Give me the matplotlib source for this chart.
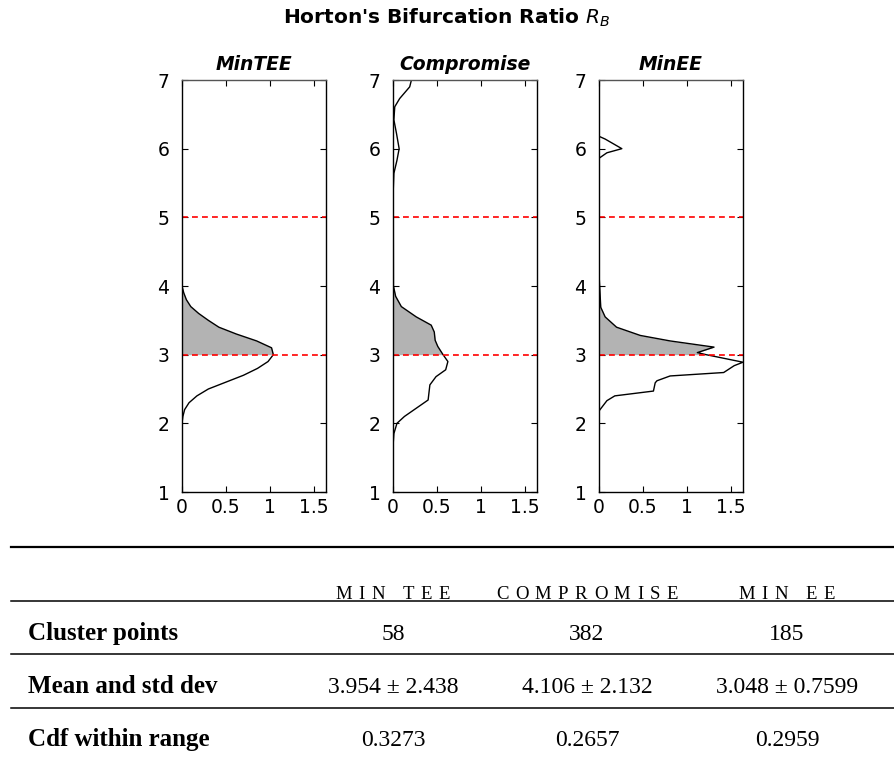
import numpy as np
import matplotlib.pyplot as plt
from matplotlib.lines import Line2D

# density of R_B for each solution set (x = density, y = ratio)
tee_y = [1.0, 2.0, 2.1, 2.2, 2.3, 2.4, 2.5, 2.6, 2.7, 2.8, 2.9, 3.0, 3.1,
         3.2, 3.3, 3.4, 3.5, 3.6, 3.7, 3.8, 3.9, 4.0, 7.0]
tee_d = [0.0, 0.0, 0.01, 0.03, 0.08, 0.17, 0.30, 0.50, 0.70, 0.86, 0.98, 1.04, 1.02,
         0.85, 0.62, 0.42, 0.30, 0.19, 0.10, 0.05, 0.02, 0.0, 0.0]

comp_y = [1.66, 1.85, 2.0, 2.1, 2.22, 2.34, 2.56, 2.68, 2.78, 2.9, 3.0, 3.12,
          3.21, 3.33, 3.43, 3.55, 3.7, 3.85, 4.0, 5.4, 5.64, 5.83, 6.0, 6.22,
          6.42, 6.61, 6.73, 6.9, 7.0]
comp_d = [0.0, 0.01, 0.045, 0.13, 0.265, 0.40, 0.42, 0.49, 0.60, 0.625, 0.57, 0.51,
          0.48, 0.47, 0.435, 0.265, 0.095, 0.03, 0.005, 0.003, 0.01, 0.045, 0.07, 0.04,
          0.01, 0.02, 0.076, 0.19, 0.21]

ee_y = [1.0, 2.18, 2.23, 2.33, 2.40, 2.47, 2.59, 2.62, 2.69, 2.74, 2.84, 2.89,
        3.0, 3.03, 3.11, 3.2, 3.28, 3.4, 3.55, 3.69, 4.18, 5.86, 5.94, 6.0, 6.14,
        6.18, 7.0]
ee_d = [0.0, 0.0, 0.03, 0.09, 0.18, 0.62, 0.64, 0.66, 0.81, 1.42, 1.54, 1.64,
        1.22, 1.12, 1.31, 0.81, 0.47, 0.2, 0.07, 0.02, 0.0, 0.0, 0.09, 0.26, 0.07,
        0.0, 0.0]

titles = ["MinTEE", "Compromise", "MinEE"]
series = [(tee_y, tee_d), (comp_y, comp_d), (ee_y, ee_d)]
lo, hi = 3.0, 5.0

col_heads = ["MIN TEE", "COMPROMISE", "MIN EE"]
row_heads = ["Cluster points", "Mean and std dev", "Cdf within range"]
cells = [["58", "382", "185"],
         ["3.954 ± 2.438", "4.106 ± 2.132", "3.048 ± 0.7599"],
         ["0.3273", "0.2657", "0.2959"]]

W, H = 894, 758
fig = plt.figure(figsize=(W / 100, H / 100), dpi=100)

xmax = max(max(d) for _, d in series)
lefts = [182, 393, 599]
for left, name, (y, d) in zip(lefts, titles, series):
    ax = fig.add_axes([left / W, 1 - 492 / H, 144 / W, 412 / H])
    y = np.array(y)
    d = np.array(d)
    m = (y >= lo) & (y <= hi)
    ax.fill_betweenx(y[m], 0, d[m], color="#b3b3b3", lw=0)
    ax.plot(d, y, color="black", lw=1)
    for v in (lo, hi):
        ax.axhline(v, color="#ff0000", lw=1.2, ls=(0, (3.5, 2.5)))
    ax.set_xlim(0, xmax)
    ax.set_ylim(1, 7)
    ax.set_xticks([0, 0.5, 1, 1.5])
    ax.set_xticklabels(["0", "0.5", "1", "1.5"])
    ax.set_yticks(range(1, 8))
    ax.tick_params(direction="in", top=True, right=True, length=4,
                   labelsize=13.5)
    ax.tick_params(axis="x", pad=4)
    ax.tick_params(axis="y", pad=9)
    for s in ax.spines.values():
        s.set_linewidth(1)
    ax.spines["top"].set_color("#555555")
    ax.set_title(name, fontsize=13.5, fontweight="bold", style="italic", pad=7)

fig.text(0.5, 1 - 18 / H, r"Horton's Bifurcation Ratio $R_B$", ha="center",
         va="center", fontsize=14.5, fontweight="bold")

# summary table
serif = "Liberation Serif"
for yy, lw in [(547, 1.6), (601, 1.1), (654, 1.1), (708, 1.1)]:
    fig.add_artist(Line2D([11 / W, 1], [1 - yy / H] * 2, color="black", lw=lw))

renderer = fig.canvas.get_renderer()


def spaced(xc, base, s, size, track):
    # small-caps style header: letters laid out one by one with extra tracking
    parts = []
    for ch in s:
        t = fig.text(0, 1 - base / H, ch, fontsize=size, family=serif,
                     va="baseline", ha="left")
        w = t.get_window_extent(renderer).width
        if ch == " ":
            w = size * 0.25 * 100 / 72
        parts.append((t, w))
    total = sum(w for _, w in parts) + track * (len(parts) - 1)
    x = xc - total / 2
    for t, w in parts:
        t.set_x(x / W)
        x += w + track


col_x = [393, 587, 787]
for x, h in zip(col_x, col_heads):
    spaced(x, 599, h, 13.5, 6.5)
for base, r, vals in zip([640, 693, 746], row_heads, cells):
    fig.text(28 / W, 1 - base / H, r, ha="left", va="baseline", fontsize=18,
             fontweight="bold", family=serif)
    for x, v in zip(col_x, vals):
        fig.text(x / W, 1 - base / H, v, ha="center", va="baseline",
                 fontsize=17, family=serif)

fig.savefig("out.png", dpi=100)
